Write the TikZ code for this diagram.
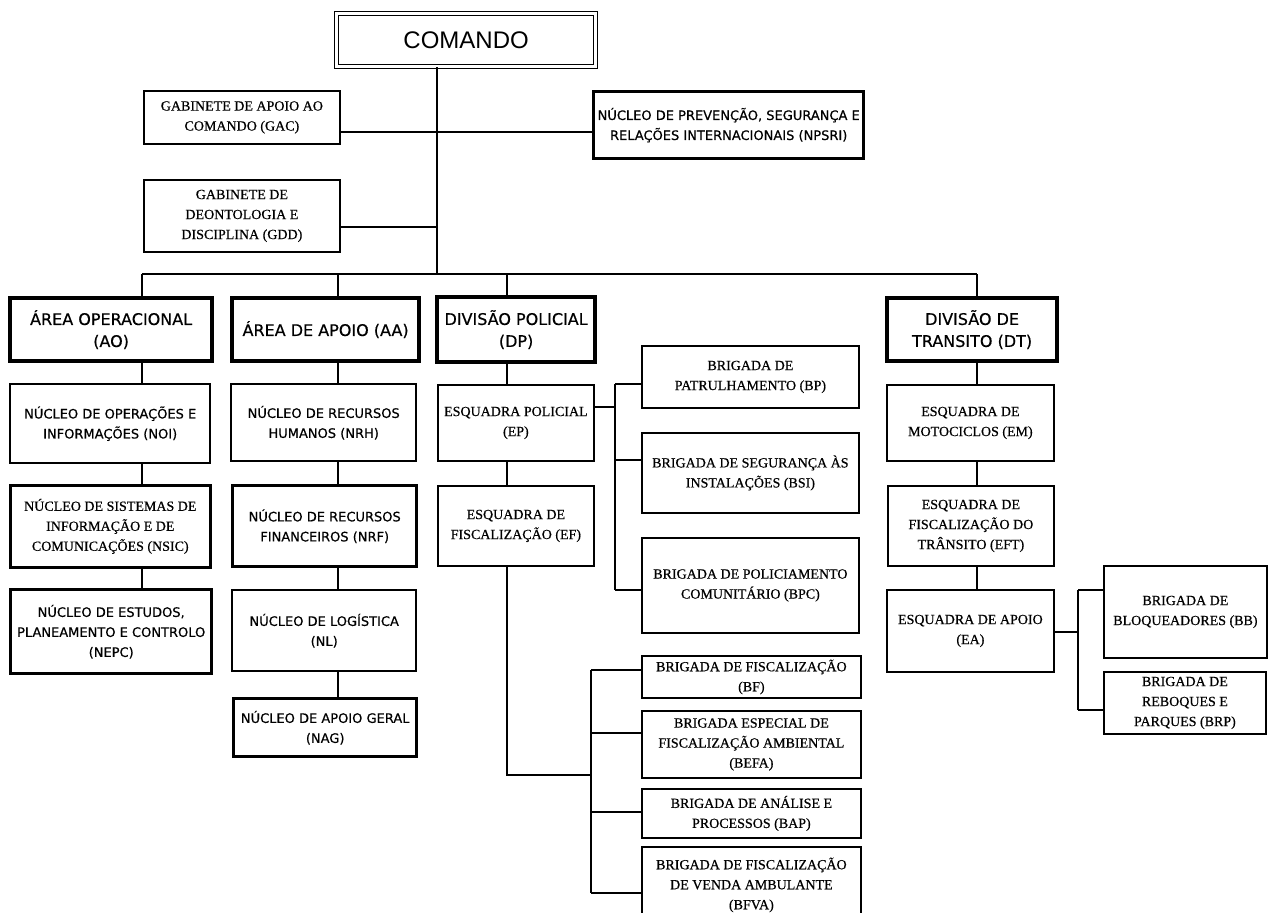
\documentclass[tikz,border=0pt]{standalone}
\usepackage{fontspec}
\setmainfont[FakeBold=0.6]{Liberation Serif}
\newfontfamily\tah[FakeBold=0.5]{DejaVu Sans}
\newfontfamily\ari{Liberation Sans}
\begin{document}
\begin{tikzpicture}[x=1pt,y=-1pt,
  bx/.style={draw, anchor=north west, align=center, inner sep=0pt, line width=1.8pt},
  sz/.style 2 args={minimum width=#1pt, minimum height=#2pt},
  ser/.style={font=\fontsize{14}{20}\selectfont},
  san/.style={font=\tah\fontsize{13}{20}\selectfont, line width=2.4pt},
  santhk/.style={font=\tah\fontsize{13}{20}\selectfont, line width=3.4pt},
  hd/.style={font=\tah\fontsize{16}{22}\selectfont, line width=4.2pt},
  ln/.style={line width=1.8pt}]
\useasboundingbox[fill=white] (0,0) rectangle (1273,912);

% top
\node[bx, sz={259}{53}, double, double distance=2.5pt, line width=1.3pt,
      font=\ari\fontsize{24}{28}\selectfont] (CMD) at (336,13) {COMANDO};
\node[bx, ser, sz={196}{53}] (GAC) at (143,90) {GABINETE DE APOIO AO\\COMANDO (GAC)};
\node[bx, santhk, sz={270}{67}] (NPSRI) at (592,90) {NÚCLEO DE PREVENÇÃO, SEGURANÇA E\\RELAÇÕES INTERNACIONAIS (NPSRI)};
\node[bx, ser, sz={196}{72}] (GDD) at (143,179) {GABINETE DE\\DEONTOLOGIA E\\DISCIPLINA (GDD)};

% headers
\node[bx, hd, sz={202}{63}] (AO) at (8,296) {ÁREA OPERACIONAL\\(AO)};
\node[bx, hd, sz={187}{63}] (AA) at (230,296) {ÁREA DE APOIO (AA)};
\node[bx, hd, sz={158}{65}] (DP) at (435,295) {DIVISÃO POLICIAL\\(DP)};
\node[bx, hd, sz={170}{63}] (DT) at (885,296) {DIVISÃO DE\\TRANSITO (DT)};

% AO column
\node[bx, san, sz={200}{79}] (NOI) at (9,383) {NÚCLEO DE OPERAÇÕES E\\INFORMAÇÕES (NOI)};
\node[bx, ser, line width=2.6pt, sz={200}{82}] (NSIC) at (9,484) {NÚCLEO DE SISTEMAS DE\\INFORMAÇÃO E DE\\COMUNICAÇÕES (NSIC)};
\node[bx, santhk, sz={201}{84}] (NEPC) at (9,588) {NÚCLEO DE ESTUDOS,\\PLANEAMENTO E CONTROLO\\(NEPC)};

% AA column
\node[bx, san, sz={185}{77}] (NRH) at (230,383) {NÚCLEO DE RECURSOS\\HUMANOS (NRH)};
\node[bx, santhk, sz={184}{81}] (NRF) at (231,484) {NÚCLEO DE RECURSOS\\FINANCEIROS (NRF)};
\node[bx, san, sz={184}{81}] (NL) at (231,589) {NÚCLEO DE LOGÍSTICA\\(NL)};
\node[bx, santhk, sz={183}{58}] (NAG) at (232,697) {NÚCLEO DE APOIO GERAL\\(NAG)};

% DP column
\node[bx, ser, sz={156}{76}] (EP) at (437,384) {ESQUADRA POLICIAL\\(EP)};
\node[bx, ser, sz={156}{80}] (EF) at (437,485) {ESQUADRA DE\\FISCALIZAÇÃO (EF)};
\node[bx, ser, sz={217}{62}] (BP) at (641,345) {BRIGADA DE\\PATRULHAMENTO (BP)};
\node[bx, ser, sz={217}{80}] (BSI) at (641,432) {BRIGADA DE SEGURANÇA ÀS\\INSTALAÇÕES (BSI)};
\node[bx, ser, sz={217}{95}] (BPC) at (641,537) {BRIGADA DE POLICIAMENTO\\COMUNITÁRIO (BPC)};
\node[bx, ser, sz={219}{42}] (BF) at (641,655) {BRIGADA DE FISCALIZAÇÃO\\(BF)};
\node[bx, ser, sz={219}{67}] (BEFA) at (641,710) {BRIGADA ESPECIAL DE\\FISCALIZAÇÃO AMBIENTAL\\(BEFA)};
\node[bx, ser, sz={219}{49}] (BAP) at (641,788) {BRIGADA DE ANÁLISE E\\PROCESSOS (BAP)};
\node[bx, ser, sz={219}{76}] (BFVA) at (641,846) {BRIGADA DE FISCALIZAÇÃO\\DE VENDA AMBULANTE\\(BFVA)};

% DT column
\node[bx, ser, sz={167}{76}] (EM) at (886,384) {ESQUADRA DE\\MOTOCICLOS (EM)};
\node[bx, ser, sz={166}{80}] (EFT) at (887,485) {ESQUADRA DE\\FISCALIZAÇÃO DO\\TRÂNSITO (EFT)};
\node[bx, ser, sz={167}{82}] (EA) at (886,589) {ESQUADRA DE APOIO\\(EA)};
\node[bx, ser, sz={163}{92}] (BB) at (1103,565) {BRIGADA DE\\BLOQUEADORES (BB)};
\node[bx, ser, sz={162}{62}] (BRP) at (1103,671) {BRIGADA DE\\REBOQUES E\\PARQUES (BRP)};

% connector coordinates
\coordinate (bus) at (437,274);
\coordinate (gy) at (437,132);
\coordinate (dy) at (437,227);
\coordinate (aoX) at (142,274);
\coordinate (aaX) at (338,274);
\coordinate (dpX) at (507,274);
\coordinate (dtX) at (977,274);
\coordinate (epH) at (615,407);
\coordinate (epT) at (615,384);
\coordinate (epM) at (615,460);
\coordinate (epB) at (615,590);
\coordinate (efC) at (507,775);
\coordinate (efH) at (591,775);
\coordinate (efT) at (591,670);
\coordinate (ef2) at (591,733);
\coordinate (ef3) at (591,812);
\coordinate (efB) at (591,893);
\coordinate (eaH) at (1078,632);
\coordinate (eaT) at (1078,590);
\coordinate (eaB) at (1078,710);

% trunk and top branches
\draw[ln] (CMD.south -| bus) -- (bus);
\draw[ln] (GAC.east |- gy) -- (NPSRI.west |- gy);
\draw[ln] (GDD.east |- dy) -- (dy);
\draw[ln] (aoX) -- (dtX);

% AO spine
\draw[ln] (aoX) -- (aoX |- AO.north);
\draw[ln] (aoX |- AO.south) -- (aoX |- NOI.north);
\draw[ln] (aoX |- NOI.south) -- (aoX |- NSIC.north);
\draw[ln] (aoX |- NSIC.south) -- (aoX |- NEPC.north);

% AA spine
\draw[ln] (aaX) -- (aaX |- AA.north);
\draw[ln] (aaX |- AA.south) -- (aaX |- NRH.north);
\draw[ln] (aaX |- NRH.south) -- (aaX |- NRF.north);
\draw[ln] (aaX |- NRF.south) -- (aaX |- NL.north);
\draw[ln] (aaX |- NL.south) -- (aaX |- NAG.north);

% DP spine
\draw[ln] (dpX) -- (dpX |- DP.north);
\draw[ln] (dpX |- DP.south) -- (dpX |- EP.north);
\draw[ln] (dpX |- EP.south) -- (dpX |- EF.north);
\draw[ln] (dpX |- EF.south) -- (efC) -- (efH);

% EP brigades
\draw[ln] (EP.east |- epH) -- (epH);
\draw[ln] (epT) -- (epB);
\draw[ln] (epT) -- (BP.west |- epT);
\draw[ln] (epM) -- (BSI.west |- epM);
\draw[ln] (epB) -- (BPC.west |- epB);

% EF brigades
\draw[ln] (efT) -- (efB);
\draw[ln] (efT) -- (BF.west |- efT);
\draw[ln] (ef2) -- (BEFA.west |- ef2);
\draw[ln] (ef3) -- (BAP.west |- ef3);
\draw[ln] (efB) -- (BFVA.west |- efB);

% DT spine
\draw[ln] (dtX) -- (dtX |- DT.north);
\draw[ln] (dtX |- DT.south) -- (dtX |- EM.north);
\draw[ln] (dtX |- EM.south) -- (dtX |- EFT.north);
\draw[ln] (dtX |- EFT.south) -- (dtX |- EA.north);

% EA brigades
\draw[ln] (EA.east |- eaH) -- (eaH);
\draw[ln] (eaT) -- (eaB);
\draw[ln] (eaT) -- (BB.west |- eaT);
\draw[ln] (eaB) -- (BRP.west |- eaB);
\end{tikzpicture}
\end{document}
